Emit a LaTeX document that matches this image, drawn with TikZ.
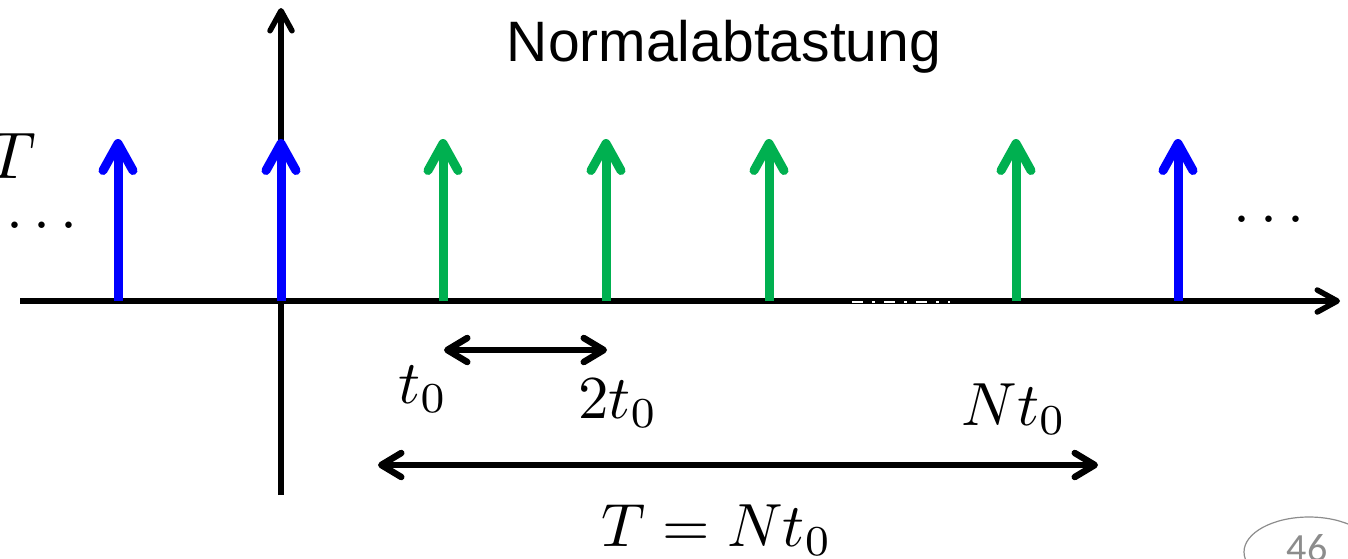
\documentclass[tikz,border=0pt]{standalone}
\usepackage{fontspec}
\newfontfamily\titlefont{Liberation Sans}
\newfontfamily\numfont{Carlito}
\usetikzlibrary{arrows.meta,shapes.geometric}
\definecolor{impblue}{RGB}{0,0,255}
\definecolor{impgreen}{RGB}{0,176,80}
\definecolor{pagegrey}{RGB}{140,140,140}
\newcommand{\mylab}[1]{\scalebox{6.1}{$#1$}}
\tikzset{
  imp/.style={line width=9pt, -{Straight Barb[length=27pt,width=30pt,line cap=round,line join=round]}},
  blueimp/.style={imp, draw=impblue},
  greenimp/.style={imp, draw=impgreen},
  axis/.style={line width=5.5pt, -{Straight Barb[length=20pt,width=22pt,line cap=round,line join=round]}},
  dbl/.style={line width=6.5pt, {Straight Barb[length=20pt,width=24pt,line cap=round,line join=round]}-{Straight Barb[length=20pt,width=24pt,line cap=round,line join=round]}},
  mlabel/.style={inner sep=0pt, anchor=base},
}
\begin{document}
\begin{tikzpicture}[x=1pt,y=-1pt]
\useasboundingbox (0,0) rectangle (1348,558);
% axes
\coordinate (xs) at (20,301);
\coordinate (xe) at (1340,301);
\coordinate (ys) at (281,495);
\coordinate (ye) at (281,8);
\draw[axis] (xs) -- (xe);
\draw[axis] (ys) -- (ye);
% white gaps on axis
\coordinate (gs) at (852,302);
\coordinate (ge) at (950,302);
\draw[white, line width=1.6pt, dash pattern=on 11pt off 9pt on 2.5pt off 9.5pt] (gs) -- (ge);
% impulses
\foreach \n/\x in {1/118,2/281,3/1178}{
  \coordinate (bb\n) at (\x,301);
  \coordinate (bt\n) at (\x,139);
  \draw[blueimp] (bb\n) -- (bt\n);
}
\foreach \n/\x in {1/443,2/606,3/769,4/1016}{
  \coordinate (gb\n) at (\x,301);
  \coordinate (gt\n) at (\x,139);
  \draw[greenimp] (gb\n) -- (gt\n);
}
% double arrows
\coordinate (sa) at (444,350);
\coordinate (sb) at (607,350);
\draw[dbl] (sa) -- (sb);
\coordinate (la) at (378,465);
\coordinate (lb) at (1098,465);
\draw[dbl] (la) -- (lb);
% labels
\node[inner sep=0pt, font=\titlefont\fontsize{57}{68}\selectfont] (title) at (724,47) {Normalabtastung};
\node[mlabel] (lt0) at (423,403) {\mylab{t_0}};
\node[mlabel] (l2t0) at (618,418) {\mylab{2t_0}};
\node[mlabel] (lNt0) at (1014,425) {\mylab{Nt_0}};
\node[mlabel] (lT) at (717,546) {\mylab{T = Nt_0}};
\node[inner sep=0pt, anchor=base east] (lTl) at (36,178) {\scalebox{6.6}{$T$}};
\node[inner sep=0pt] (dl) at (42,227) {\mylab{\cdots}};
\node[inner sep=0pt] (dr) at (1269,221) {\mylab{\cdots}};
% page number
\node[draw=pagegrey, line width=1.2pt, ellipse, minimum width=130pt, minimum height=70pt, inner sep=0pt] (pg) at (1309,552) {};
\node[text=pagegrey, inner sep=0pt, font=\numfont\fontsize{40}{48}\selectfont, anchor=north] (pgn) at (1307,534) {46};
\end{tikzpicture}
\end{document}
